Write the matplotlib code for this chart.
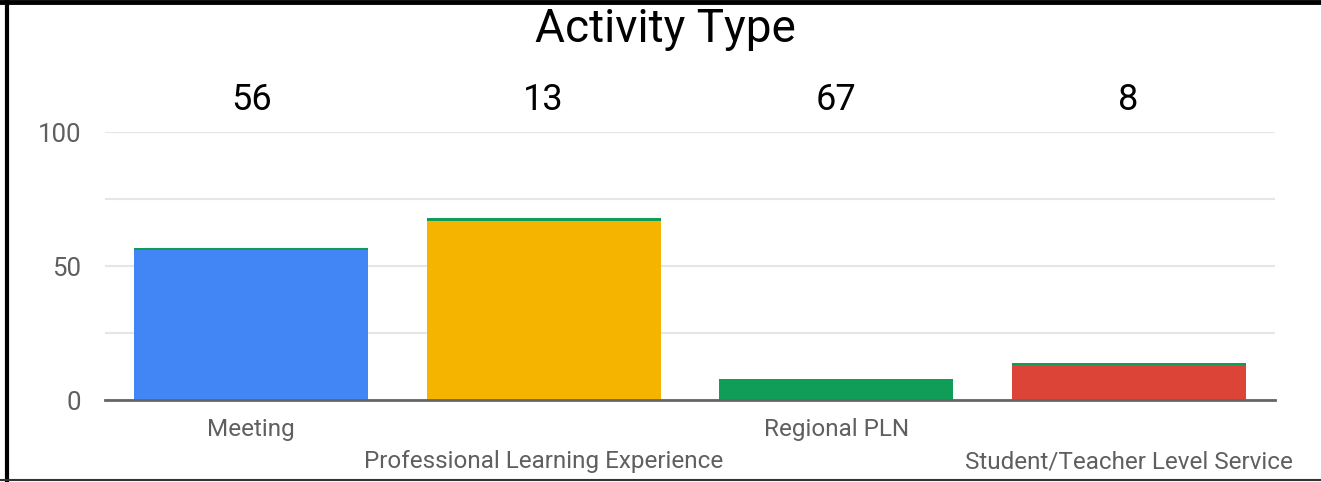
import matplotlib.pyplot as plt
from matplotlib.lines import Line2D
from matplotlib.transforms import blended_transform_factory

plt.rcParams['font.family'] = ['Roboto', 'DejaVu Sans']

# data
categories = ["Meeting", "Professional Learning Experience", "Regional PLN",
              "Student/Teacher Level Service"]
values = [56, 67, 8, 13]
cap_values = [0.8, 0.8, 0, 0.8]   # thin green band stacked on top
top_labels = ["56", "13", "67", "8"]
colors = ["#4285f4", "#f4b400", "#0f9d58", "#db4437"]
cap_color = "#0f9d58"

fig = plt.figure(figsize=(13.21, 4.82), dpi=100)
ax = fig.add_axes([0.0795, 0.170, 0.8855, 0.556])

x = list(range(len(categories)))
ax.bar(x, values, width=0.8, color=colors, zorder=2)
ax.bar(x, cap_values, bottom=values, width=0.8, color=cap_color, zorder=2)

ax.set_xlim(-0.5, 3.5)
ax.set_ylim(0, 100)
ax.set_yticks([0, 25, 50, 75, 100])
ax.set_yticklabels(["0", "", "50", "", "100"])
ax.tick_params(axis="y", length=0, pad=17, labelsize=18.5, labelcolor="#5f5f5f")
ax.grid(axis="y", color="#e6e6e6", linewidth=1.5, zorder=0)
ax.set_xticks([])
for s in ["top", "right", "left"]:
    ax.spines[s].set_visible(False)
ax.spines["bottom"].set_color("#666666")
ax.spines["bottom"].set_linewidth(2)
ax.spines["bottom"].set_zorder(3)

# staggered category labels
tr = blended_transform_factory(ax.transData, fig.transFigure)
for i, name in enumerate(categories):
    ypos = 1 - 436 / 482 if i % 2 == 0 else 1 - 468 / 482
    ax.text(i, ypos, name, transform=tr, ha="center", va="baseline",
            fontsize=17.5, color="#5f5f5f")

# labels above the plot
for i, lab in enumerate(top_labels):
    ax.text(i, 1 - 110 / 482, lab, transform=tr, ha="center", va="baseline",
            fontsize=26, color="black")

fig.text(0.504, 1 - 42 / 482, "Activity Type", ha="center", va="baseline",
         fontsize=33, color="black")

# frame
fig.add_artist(Line2D([0.005, 0.005], [0, 1], transform=fig.transFigure,
                      color="black", linewidth=3))
fig.add_artist(Line2D([0, 1], [0.995, 0.995], transform=fig.transFigure,
                      color="black", linewidth=3.5))
fig.add_artist(Line2D([0, 1], [0.004, 0.004], transform=fig.transFigure,
                      color="#333333", linewidth=1.5))

fig.savefig("out.png", dpi=100)
